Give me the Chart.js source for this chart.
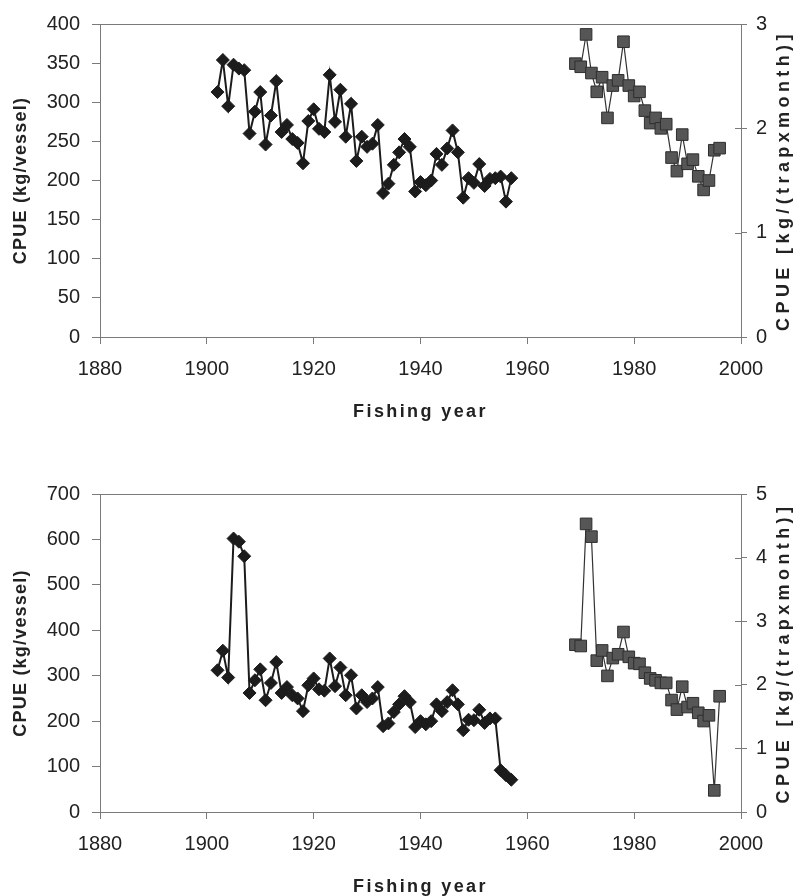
<!DOCTYPE html>
<html>
<head>
<meta charset="utf-8">
<script src="https://cdn.jsdelivr.net/npm/chart.js@4.4.1/dist/chart.umd.min.js"></script>
<style>
  html, body { margin: 0; padding: 0; background: #fff; }
  .panel { position: absolute; left: 0; width: 806px; height: 448px; }
</style>
</head>
<body>
<div class="panel" style="top:0"><canvas id="chartTop" width="806" height="448"></canvas></div>
<div class="panel" style="top:448px"><canvas id="chartBottom" width="806" height="448"></canvas></div>
<script>
// fishing years of the two surveys
const vesselYears = [1902, 1903, 1904, 1905, 1906, 1907, 1908, 1909, 1910, 1911, 1912, 1913, 1914, 1915,
    1916, 1917, 1918, 1919, 1920, 1921, 1922, 1923, 1924, 1925, 1926, 1927, 1928, 1929, 1930, 1931,
    1932, 1933, 1934, 1935, 1936, 1937, 1938, 1939, 1940, 1941, 1942, 1943, 1944, 1945, 1946, 1947,
    1948, 1949, 1950, 1951, 1952, 1953, 1954, 1955, 1956, 1957];
const trapYears = [1969, 1970, 1971, 1972, 1973, 1974, 1975, 1976, 1977, 1978, 1979, 1980, 1981, 1982,
    1983, 1984, 1985, 1986, 1987, 1988, 1989, 1990, 1991, 1992, 1993, 1994, 1995, 1996];

// CPUE kg/vessel (left axis)
const vesselTop = [313, 354, 295, 348, 343, 341, 260, 288, 313, 246, 283, 327, 262, 271,
    253, 248, 222, 276, 291, 266, 262, 335, 275, 316, 256, 298, 225, 256, 243, 247,
    271, 184, 196, 220, 236, 253, 243, 186, 198, 194, 200, 234, 220, 241, 264, 236,
    178, 203, 197, 221, 193, 202, 203, 205, 173, 203];
const vesselBottom = [312, 355, 296, 602, 595, 563, 262, 290, 314, 246, 284, 330, 262, 275,
    257, 250, 222, 279, 294, 270, 267, 338, 277, 318, 257, 301, 228, 257, 242, 250,
    275, 189, 195, 220, 237, 255, 242, 187, 200, 193, 200, 237, 222, 242, 268, 237,
    180, 203, 202, 225, 196, 206, 206, 92, 81, 71];

// CPUE kg/(trap x month) (right axis)
const trapTop = [2.62, 2.59, 2.90, 2.53, 2.35, 2.49, 2.10, 2.41, 2.46, 2.83, 2.41, 2.31, 2.35, 2.17,
    2.05, 2.10, 2.00, 2.04, 1.72, 1.59, 1.94, 1.66, 1.70, 1.54, 1.41, 1.50, 1.79, 1.81];
const trapBottom = [2.63, 2.61, 4.53, 4.33, 2.38, 2.54, 2.14, 2.42, 2.48, 2.83, 2.44, 2.34, 2.33, 2.19,
    2.10, 2.07, 2.03, 2.03, 1.76, 1.61, 1.97, 1.65, 1.71, 1.56, 1.43, 1.52, 0.34, 1.82];

const xTicks = [1880, 1900, 1920, 1940, 1960, 1980, 2000];
const xTitle = 'Fishing year';
const leftTitle = 'CPUE (kg/vessel)';
const rightTitle = 'CPUE [kg/(trapxmonth)]';

const fontFamily = "'Liberation Sans', Arial, sans-serif";
const axisGray = '#7a7a7a';
const textColor = '#222';

function toPoints(xs, ys) {
    return xs.map((x, i) => ({ x: x, y: ys[i] }));
}

const frame = {
    id: 'frame',
    afterDraw: (chart) => {
        const ctx = chart.ctx;
        const a = chart.chartArea;
        const opts = chart.options.plugins.frame;
        ctx.save();

        // box round the plot
        ctx.strokeStyle = axisGray;
        ctx.lineWidth = 1;
        ctx.strokeRect(a.left + 0.5, a.top + 0.5, a.right - a.left, a.bottom - a.top);

        // right axis ticks cross the line
        const y1 = chart.scales.y1;
        ctx.beginPath();
        y1.ticks.forEach(t => {
            const py = Math.round(y1.getPixelForValue(t.value)) + 0.5;
            ctx.moveTo(a.right - 6, py);
            ctx.lineTo(a.right, py);
        });
        ctx.stroke();

        // titles
        ctx.fillStyle = textColor;
        ctx.font = 'bold 18px ' + fontFamily;
        ctx.textAlign = 'center';
        ctx.textBaseline = 'alphabetic';
        ctx.letterSpacing = '2.4px';
        ctx.fillText(xTitle, (a.left + a.right) / 2, opts.xTitleY);

        const midY = (a.top + a.bottom) / 2;
        ctx.textBaseline = 'middle';
        ctx.save();
        ctx.translate(21, midY);
        ctx.rotate(-Math.PI / 2);
        ctx.letterSpacing = '1.2px';
        ctx.fillText(leftTitle, 0, 0);
        ctx.restore();

        ctx.save();
        ctx.translate(784, midY);
        ctx.rotate(-Math.PI / 2);
        ctx.letterSpacing = '4.4px';
        ctx.fillText(rightTitle, 0, 0);
        ctx.restore();

        ctx.restore();
    }
};

function makeChart(id, vesselValues, trapValues, leftMax, leftStep, rightMax, padTop, xHeight, xTitleY) {
    const data = {
        datasets: [
            {
                label: 'Vessel',
                data: toPoints(vesselYears, vesselValues),
                yAxisID: 'y',
                showLine: true,
                borderColor: '#1c1c1c',
                borderWidth: 2,
                pointStyle: 'rectRot',
                pointRadius: 6.5,
                pointBackgroundColor: '#1c1c1c',
                pointBorderColor: '#1c1c1c',
                pointBorderWidth: 1,
                clip: false
            },
            {
                label: 'Trap',
                data: toPoints(trapYears, trapValues),
                yAxisID: 'y1',
                showLine: true,
                borderColor: '#333',
                borderWidth: 1.2,
                pointStyle: 'rect',
                pointRadius: 8.2,
                pointBackgroundColor: '#565656',
                pointBorderColor: '#2e2e2e',
                pointBorderWidth: 1,
                clip: false
            }
        ]
    };

    const tickFont = { family: fontFamily, size: 20 };

    const config = {
        type: 'scatter',
        data: data,
        options: {
            responsive: false,
            animation: false,
            events: [],
            layout: {
                padding: { top: padTop, left: 0, right: 0, bottom: 0 }
            },
            plugins: {
                legend: { display: false },
                tooltip: { enabled: false },
                frame: { xTitleY: xTitleY }
            },
            scales: {
                x: {
                    type: 'linear',
                    min: 1880,
                    max: 2000,
                    afterBuildTicks: (scale) => {
                        scale.ticks = xTicks.map(v => ({ value: v }));
                    },
                    ticks: {
                        color: textColor,
                        font: tickFont,
                        padding: 13,
                        maxRotation: 0,
                        callback: (v) => String(v)
                    },
                    grid: { drawOnChartArea: false, tickLength: 7, color: axisGray },
                    border: { color: axisGray },
                    afterFit: (scale) => { scale.height = xHeight; }
                },
                y: {
                    position: 'left',
                    min: 0,
                    max: leftMax,
                    ticks: {
                        stepSize: leftStep,
                        color: textColor,
                        font: tickFont,
                        padding: 12
                    },
                    grid: { drawOnChartArea: false, tickLength: 8, color: axisGray },
                    border: { color: axisGray },
                    afterFit: (scale) => { scale.width = 100; }
                },
                y1: {
                    position: 'right',
                    min: 0,
                    max: rightMax,
                    ticks: {
                        stepSize: 1,
                        color: textColor,
                        font: tickFont,
                        padding: 9
                    },
                    grid: { drawOnChartArea: false, tickLength: 6, color: axisGray },
                    border: { color: axisGray },
                    afterFit: (scale) => { scale.width = 65; }
                }
            }
        },
        plugins: [frame]
    };

    return new Chart(document.getElementById(id), config);
}

makeChart('chartTop', vesselTop, trapTop, 400, 50, 3, 20, 111, 417);
makeChart('chartBottom', vesselBottom, trapBottom, 700, 100, 5, 46, 84, 444);
</script>
</body>
</html>
